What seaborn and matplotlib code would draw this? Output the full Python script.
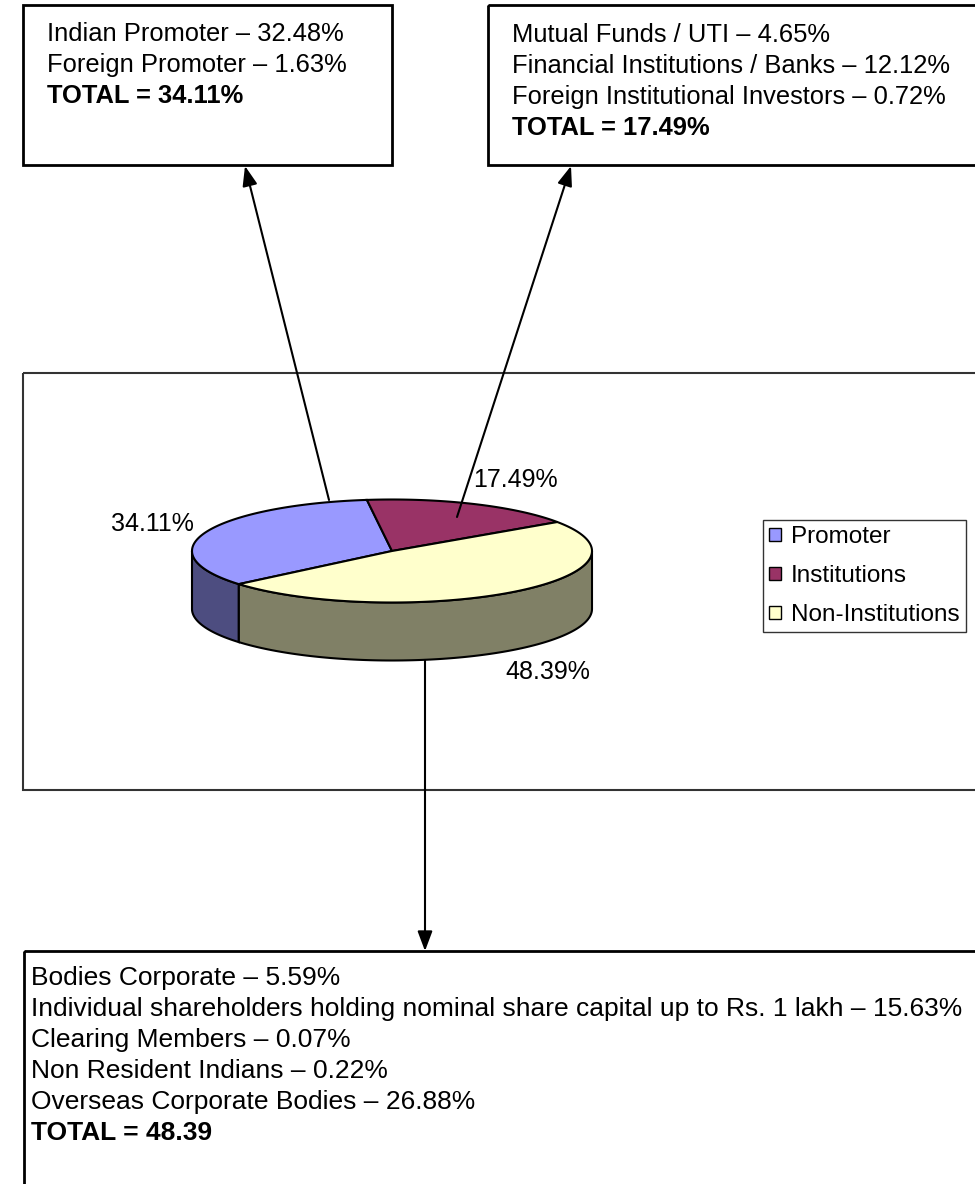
"""
Shareholding pattern diagram
- 3D style pie of the three holder groups
- call-out boxes with the breakdown of each group
"""
import numpy as np
import matplotlib
matplotlib.use("Agg")
import matplotlib.pyplot as plt
from matplotlib.patches import Polygon, Rectangle, Patch
import seaborn as sns

# 1. Data
groups = ["Promoter", "Institutions", "Non-Institutions"]
shares = [34.11, 17.49, 48.39]
top_colors = ["#9999FF", "#993366", "#FFFFCC"]
side_colors = ["#4D4D80", "#4D1A33", "#808066"]

promoter_items = ["Indian Promoter", "Foreign Promoter"]
promoter_pcts = [32.48, 1.63]
inst_items = ["Mutual Funds / UTI", "Financial Institutions / Banks",
              "Foreign Institutional Investors"]
inst_pcts = [4.65, 12.12, 0.72]
noninst_items = ["Bodies Corporate",
                 "Individual shareholders holding nominal share capital up to Rs. 1 lakh",
                 "Clearing Members", "Non Resident Indians", "Overseas Corporate Bodies"]
noninst_pcts = [5.59, 15.63, 0.07, 0.22, 26.88]

# 2. Layout (pixel space of the page)
W, H = 975, 1184
CX, CY, RX, RY, DEPTH = 392, 551, 200, 51.5, 58
START_ANGLE = 220

sns.set_theme(style="white")
plt.rcParams['font.family'] = ['Liberation Sans', 'DejaVu Sans']
plt.rcParams['text.color'] = 'black'

fig = plt.figure(figsize=(W / 100, H / 100), dpi=100)
ax = fig.add_axes([0, 0, 1, 1])
ax.set_xlim(0, W)
ax.set_ylim(H, 0)
ax.axis("off")


def arc(a0, a1, dy=0.0):
    t = np.radians(np.linspace(a0, a1, 120))
    return np.column_stack([CX + RX * np.cos(t), CY - RY * np.sin(t) + dy])


# 3. Pie (clockwise from START_ANGLE)
bounds = START_ANGLE - 3.6 * np.concatenate([[0], np.cumsum(shares)])
for i in range(len(shares)):
    hi, lo = bounds[i], bounds[i + 1]
    # front wall (angles where the rim faces the viewer)
    for k in (-1, 0, 1):
        a0 = max(lo, 180 + 360 * k)
        a1 = min(hi, 360 + 360 * k)
        if a1 > a0:
            pts = np.vstack([arc(a0, a1), arc(a1, a0, DEPTH)])
            ax.add_patch(Polygon(pts, closed=True, facecolor=side_colors[i],
                                 edgecolor="black", lw=1.5, zorder=2))
    top = np.vstack([[CX, CY], arc(hi, lo)])
    ax.add_patch(Polygon(top, closed=True, facecolor=top_colors[i],
                         edgecolor="black", lw=1.5, zorder=3))

label_pos = [(152, 524), (515, 480), (548, 672)]
for (x, y), v in zip(label_pos, shares):
    ax.text(x, y, f"{v:.2f}%", fontsize=18, ha="center", va="center", zorder=5)

# chart area frame
ax.add_patch(Rectangle((23, 373), 970, 417, fill=False, edgecolor="#333333",
                       lw=1.5, zorder=1))

handles = [Patch(facecolor=c, edgecolor="black", lw=1) for c in top_colors]
leg = ax.legend(handles, groups, loc="upper left",
                bbox_to_anchor=(763 / W, 1 - 520 / H), fontsize=17.5,
                handlelength=0.5, handleheight=0.5, handletextpad=0.4,
                labelspacing=0.7, borderpad=0.25, borderaxespad=0,
                frameon=True, fancybox=False)
leg.get_frame().set_edgecolor("black")
leg.get_frame().set_linewidth(1)
for t in leg.get_texts():
    t.set_color("black")

# 4. Call-out boxes
ax.add_patch(Rectangle((23, 5), 369, 160, fill=False, edgecolor="black", lw=2))
ax.add_patch(Rectangle((488, 5), 500, 160, fill=False, edgecolor="black", lw=2))
ax.add_patch(Rectangle((24, 951), 970, 260, fill=False, edgecolor="black", lw=2))


def box_text(x, y0, items, pcts, total, fs, pct_sign=True):
    step = 31
    for j, (name, p) in enumerate(zip(items, pcts)):
        ax.text(x, y0 + j * step, f"{name} \u2013 {p:.2f}%", fontsize=fs,
                ha="left", va="center")
    tail = "%" if pct_sign else ""
    ax.text(x, y0 + len(items) * step, f"TOTAL = {total:.2f}{tail}",
            fontsize=fs, fontweight="bold", ha="left", va="center")


box_text(47, 34, promoter_items, promoter_pcts, shares[0], 18.4)
box_text(512, 35, inst_items, inst_pcts, shares[1], 18.4)
box_text(31, 978, noninst_items, noninst_pcts, shares[2], 19, pct_sign=False)

# 5. Arrows
arrow_kw = dict(arrowstyle="-|>,head_length=0.8,head_width=0.3", color="black",
                lw=1.5, mutation_scale=15, shrinkA=0, shrinkB=0)
for tail, tip in [((329, 500), (245, 166)), ((457, 517), (571, 166)),
                  ((425, 660), (425, 951))]:
    ax.annotate("", xy=tip, xytext=tail, arrowprops=arrow_kw, zorder=6)

fig.savefig("out.png", dpi=100)
